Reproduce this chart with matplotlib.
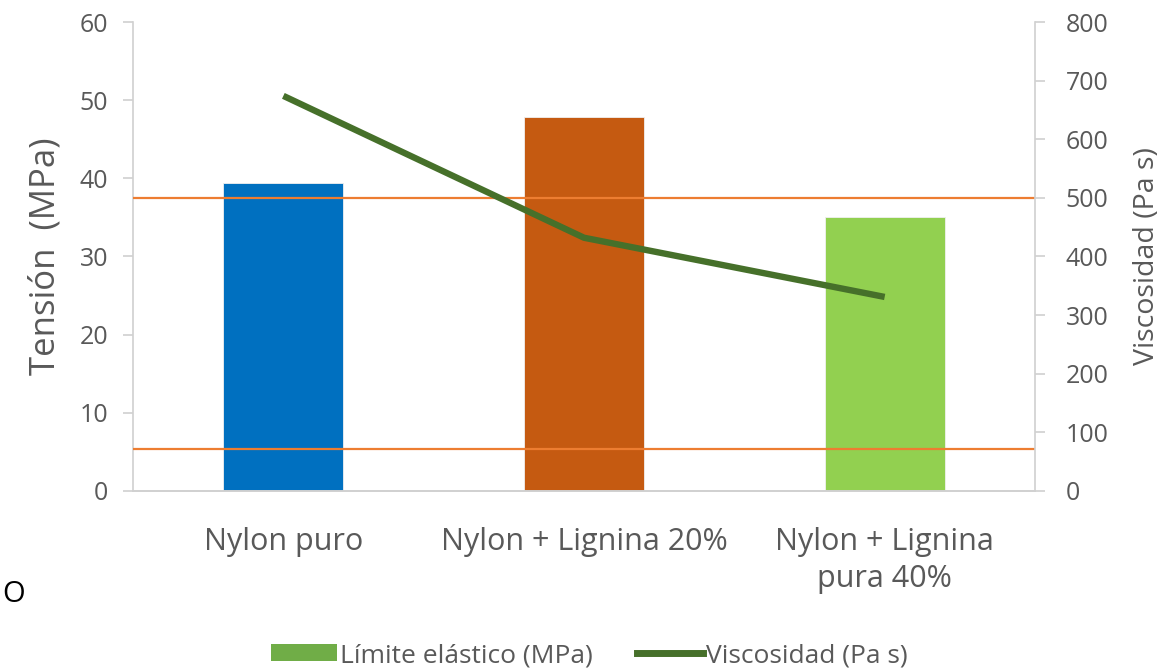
import matplotlib.pyplot as plt
from matplotlib.patches import Patch
from matplotlib.lines import Line2D

# Datos del ensayo
categorias = ["Nylon puro", "Nylon + Lignina 20%", "Nylon + Lignina\npura 40%"]
limite_elastico = [39.4, 47.8, 35.0]          # MPa
viscosidad = [674, 432, 331]                  # Pa s
colores_barras = ["#0070C0", "#C55A11", "#92D050"]
lineas_ref = [500, 72]                        # Pa s (eje derecho)

plt.rcParams['font.family'] = ['Open Sans', 'DejaVu Sans']
gris = "#595959"

fig = plt.figure(figsize=(11.65, 6.69), dpi=100)
ax = fig.add_axes([0.1142, 0.2661, 0.7742, 0.7010])
ax2 = ax.twinx()

x = range(len(categorias))
ax.bar(x, limite_elastico, width=0.4, color=colores_barras,
       edgecolor="#f0f0f0", linewidth=0.6, zorder=2)

for v in lineas_ref:
    ax2.axhline(v, color="#ED7D31", linewidth=1.6, zorder=1)
ax2.plot(x, viscosidad, color="#46702A", linewidth=4.6, zorder=3,
         solid_capstyle="butt")

ax.set_xlim(-0.5, 2.5)
ax.set_ylim(0, 60)
ax2.set_ylim(0, 800)
ax.set_yticks(range(0, 61, 10))
ax2.set_yticks(range(0, 801, 100))
ax.set_xticks(list(x))
ax.set_xticklabels(categorias, fontsize=22, color=gris, linespacing=1.3)

for a in (ax, ax2):
    a.spines['top'].set_visible(False)
    for s in ('left', 'right', 'bottom'):
        a.spines[s].set_color("#d0d0d0")
        a.spines[s].set_linewidth(1.2)
    a.tick_params(axis='y', labelsize=18, labelcolor=gris, color="#d0d0d0",
                  length=7, width=1.2)
ax.tick_params(axis='y', pad=11)
ax2.tick_params(axis='y', pad=15)
ax.tick_params(axis='x', length=0, pad=26)
ax2.spines['left'].set_visible(False)
ax.spines['right'].set_visible(False)

ax.set_ylabel("Tensión  (MPa)", fontsize=25, color=gris, labelpad=12)
ax2.set_ylabel("Viscosidad (Pa s)", fontsize=20.5, color=gris, labelpad=18)

handles = [Patch(facecolor="#70AD47", edgecolor="none"),
           Line2D([0], [0], color="#46702A", linewidth=5)]
fig.legend(handles, ["Límite elástico (MPa)", "Viscosidad (Pa s)"],
           loc="center", bbox_to_anchor=(0.506, 0.02), ncol=2, frameon=False,
           fontsize=19, labelcolor=gris, handlelength=2.5, handleheight=0.6,
           handletextpad=0.1, columnspacing=1.7)

fig.text(0.002, 0.1, "O", fontsize=21, color="black")

fig.savefig("out.png", dpi=100, facecolor="white")
